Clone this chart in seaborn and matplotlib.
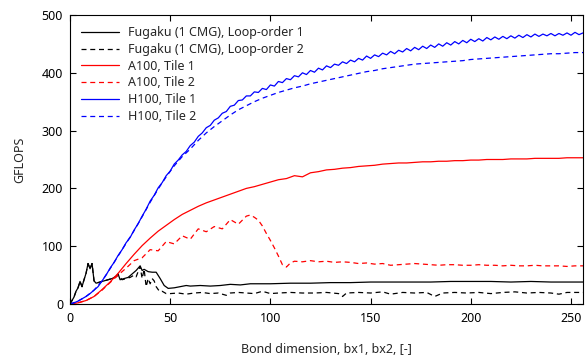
import numpy as np
import pandas as pd
import seaborn as sns
import matplotlib.pyplot as plt

# bond dimension grids
bx_h100_t1 = np.arange(0, 257, 2)
bx_step4 = np.arange(0, 257, 4)
bx_a100_t2 = [0, 4, 8, 12, 16, 20, 24, 28, 32, 36, 40, 44, 48, 52, 56, 60, 64, 68, 72, 76,
              80, 84, 88, 90, 92, 94, 96, 98, 100, 102, 104, 106, 108, 110, 112, 116, 120,
              124, 128, 132, 136, 140, 144, 148, 152, 156, 160, 164, 168, 172, 176, 180, 184,
              188, 192, 196, 200, 204, 208, 212, 216, 220, 224, 228, 232, 236, 240, 244, 248,
              252, 256]
bx_fugaku1 = [0, 1, 2, 3, 4, 5, 6, 7, 8, 9, 10, 11, 12, 13, 15, 17, 19, 21, 23, 24, 25, 27,
              29, 31, 33, 35, 36, 37, 39, 41, 43, 45, 47, 49, 52, 55, 58, 60, 65, 70, 75, 80,
              85, 90, 95, 100, 110, 120, 130, 140, 150, 160, 170, 180, 190, 200, 210, 220, 230,
              240, 250, 256]
bx_fugaku2 = [0, 1, 2, 3, 4, 5, 6, 7, 8, 9, 10, 11, 12, 13, 15, 17, 19, 21, 23, 24, 26, 28,
              30, 32, 33, 35, 36, 37, 38, 39, 40, 41, 42, 43, 44, 45, 46, 48, 50, 54, 58, 62,
              66, 70, 74, 78, 80, 84, 88, 92, 96, 100, 104, 110, 116, 122, 128, 134, 136, 138,
              144, 150, 156, 160, 166, 172, 178, 182, 186, 192, 198, 204, 210, 216, 222, 228,
              234, 240, 244, 248, 252, 256]

h100_t1 = [0, 2, 5, 9, 13, 18, 24, 30, 40, 50, 62, 72, 84, 94, 106, 115, 128, 139, 152, 164,
           178, 188, 201, 210, 222, 230, 242, 249, 258, 264, 274, 280, 290, 296, 305, 309, 318,
           322, 330, 333, 342, 344, 352, 353, 360, 360, 367, 366, 373, 371, 379, 377, 385, 383,
           390, 388, 395, 393, 400, 397, 404, 401, 408, 405, 412, 409, 415, 413, 419, 416, 422,
           419, 425, 422, 429, 425, 431, 428, 434, 431, 437, 433, 439, 436, 442, 438, 444, 440,
           446, 442, 448, 444, 450, 446, 452, 448, 454, 450, 456, 452, 458, 454, 459, 455, 461,
           457, 462, 458, 463, 459, 464, 460, 465, 461, 466, 462, 467, 463, 467, 464, 468, 464,
           468, 465, 469, 465, 470, 466, 469]
h100_t2 = [0, 5, 13, 24, 40, 61, 83, 105, 127, 151, 176, 199, 220, 239, 255, 268, 283, 296,
           307, 317, 327, 336, 343, 350, 356, 361, 366, 370, 374, 377, 381, 384, 387, 390, 393,
           396, 399, 402, 404, 407, 409, 411, 413, 415, 416, 417, 418, 419, 420, 421, 423, 424,
           425, 426, 427, 428, 429, 430, 431, 432, 433, 433, 434, 435, 435]
a100_t1 = [0, 2, 6, 13, 25, 38, 53, 70, 86, 101, 114, 126, 136, 146, 155, 162, 169, 175, 180,
           185, 190, 195, 200, 203, 207, 211, 215, 217, 222, 220, 227, 229, 232, 233, 235, 236,
           238, 239, 240, 242, 243, 244, 244, 245, 246, 246, 247, 247, 248, 248, 249, 249, 250,
           250, 250, 251, 251, 251, 252, 252, 252, 252, 253, 253, 253]
a100_t2 = [0, 2, 6, 13, 24, 37, 50, 62, 75, 80, 94, 92, 108, 104, 118, 112, 130, 125, 134, 130,
           146, 138, 152, 154, 150, 145, 135, 122, 110, 97, 83, 68, 64, 71, 74, 73, 75, 73, 74,
           72, 73, 72, 70, 71, 69, 70, 67, 68, 69, 70, 69, 68, 67, 68, 68, 67, 67, 68, 67, 67,
           66, 67, 66, 66, 67, 66, 66, 66, 65, 66, 66]
fugaku_1 = [0, 6, 12, 22, 28, 39, 30, 42, 53, 70, 61, 70, 40, 36, 38, 40, 42, 44, 48, 52, 42,
            44, 46, 52, 58, 66, 58, 60, 56, 55, 55, 44, 32, 27, 28, 30, 32, 31, 32, 31, 32, 34,
            33, 35, 35, 35, 36, 36, 37, 37, 38, 38, 38, 38, 39, 39, 39, 38, 39, 38, 38, 38]
fugaku_2 = [0, 6, 12, 22, 28, 39, 30, 42, 53, 70, 61, 70, 40, 36, 38, 40, 42, 44, 47, 50, 42,
            44, 46, 50, 47, 65, 44, 60, 30, 44, 35, 44, 40, 30, 25, 21, 22, 18, 18, 19, 17, 19,
            20, 18, 19, 15, 19, 20, 19, 18, 22, 18, 19, 20, 19, 19, 20, 18, 13, 19, 20, 19, 21,
            17, 20, 19, 20, 13, 19, 20, 19, 20, 18, 20, 21, 19, 20, 19, 17, 20, 20, 20]

series = [
    ("Fugaku (1 CMG), Loop-order 1", bx_fugaku1, fugaku_1, "black", False),
    ("Fugaku (1 CMG), Loop-order 2", bx_fugaku2, fugaku_2, "black", True),
    ("A100, Tile 1", bx_step4, a100_t1, "#ff0000", False),
    ("A100, Tile 2", bx_a100_t2, a100_t2, "#ff0000", True),
    ("H100, Tile 1", bx_h100_t1, h100_t1, "#0000ff", False),
    ("H100, Tile 2", bx_step4, h100_t2, "#0000ff", True),
]

sns.set_style("ticks")
plt.rcParams['font.family'] = ['Noto Sans', 'DejaVu Sans']

fig = plt.figure(figsize=(5.87, 3.62), dpi=100)
ax = fig.add_axes([70 / 587, 58 / 362, 513 / 587, 289 / 362])

for label, xs, ys, color, dashed in series:
    df = pd.DataFrame({"bx": xs, "gflops": ys})
    sns.lineplot(data=df, x="bx", y="gflops", color=color, linewidth=0.9,
                 label=label, ax=ax, estimator=None, sort=False)
    if dashed:
        ax.lines[-1].set_dashes((4, 3))

ax.set_xlim(0, 256)
ax.set_ylim(0, 500)
ax.set_xticks([0, 50, 100, 150, 200, 250])
ax.set_yticks([0, 100, 200, 300, 400, 500])
ax.tick_params(direction="in", length=4, width=0.8, top=True, right=True,
               labelsize=9, colors="black", pad=5)
ax.tick_params(axis="x", pad=6)
for s in ax.spines.values():
    s.set_linewidth(0.8)
    s.set_color("black")
ax.set_xlabel("Bond dimension, bx1, bx2, [-]", fontsize=9, labelpad=13)
ax.set_ylabel("GFLOPS", fontsize=9, labelpad=11)

ax.legend(loc="upper left", frameon=False, fontsize=9, handlelength=3.0,
          handletextpad=0.7, labelspacing=0.3, borderaxespad=0.5)

fig.savefig("out.png", dpi=100)
